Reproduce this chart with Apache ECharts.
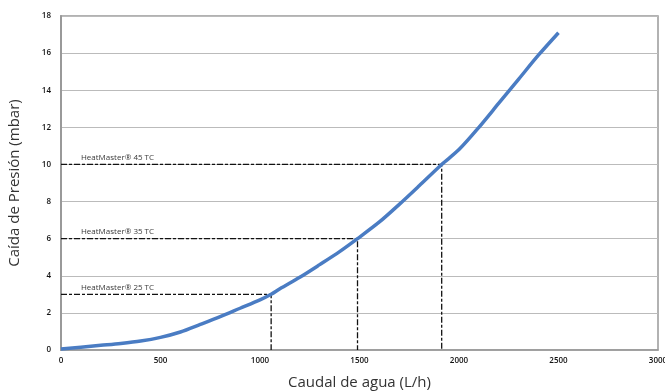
<!DOCTYPE html>
<html><head><meta charset="utf-8">
<script src="https://cdn.jsdelivr.net/npm/echarts@6/dist/echarts.min.js"></script>
<style>html,body{margin:0;padding:0;background:#fff}#c{width:665px;height:392px}</style>
</head><body><div id="c"></div>
<script>
const flowX = [0,100,200,300,400,500,600,700,800,900,1000,1056,1100,1200,1300,1400,1490,1600,1700,1800,1913,2000,2100,2200,2300,2400,2500];
const dropY = [0.05,0.15,0.25,0.35,0.48,0.68,0.97,1.38,1.8,2.25,2.7,3.0,3.3,3.92,4.6,5.3,6.0,6.9,7.85,8.85,10.0,10.8,12.0,13.3,14.6,15.9,17.1];
const modelNames = ['HeatMaster® 25 TC','HeatMaster® 35 TC','HeatMaster® 45 TC'];
const modelFlow = [1056,1490,1913];
const modelDrop = [3,6,10];
const xTicks = [0,500,1000,1500,2000,2500,3000];
const yTicks = [0,2,4,6,8,10,12,14,16,18];

const series = [{
  type:'line', smooth:0.3, showSymbol:false, silent:true,
  data: flowX.map((x,i)=>[x,dropY[i]]),
  lineStyle:{color:'#4a7cc3', width:3.5}, z:3
}];
modelNames.forEach((n,i)=>{
  series.push({
    type:'line', showSymbol:false, silent:true, z:2,
    data:[[0,modelDrop[i]],[modelFlow[i],modelDrop[i]],[modelFlow[i],0]],
    lineStyle:{color:'#111', width:1.3, type:[6,2,3,2]}
  });
  series.push({
    type:'scatter', symbolSize:0, silent:true,
    data:[[100,modelDrop[i]]],
    label:{show:true, formatter:n, position:'top', align:'left', offset:[0,2],
      color:'#000', fontSize:8, fontFamily:'Open Sans, sans-serif'}
  });
});

const chart = echarts.init(document.getElementById('c'));
chart.setOption({
  animation:false,
  grid:{left:61, right:7, top:16, bottom:42, outerBoundsMode:'none', containLabel:false,
    show:true, borderColor:'#999', borderWidth:1.5},
  xAxis:{type:'value', min:0, max:3000, interval:500,
    name:'Caudal de agua (L/h)', nameLocation:'middle', nameGap:25,
    nameTextStyle:{fontSize:15, color:'#333', fontFamily:'Open Sans, sans-serif'},
    axisLine:{show:true, lineStyle:{color:'#999', width:1.5}}, axisTick:{show:false},
    axisLabel:{fontSize:8, color:'#111', margin:7, fontWeight:600, fontFamily:'Open Sans, sans-serif',
      formatter:v=>xTicks.includes(v)?String(v):''},
    splitLine:{show:false}},
  yAxis:{type:'value', min:0, max:18, interval:2,
    name:'Caída de Presión (mbar)', nameLocation:'middle', nameGap:39,
    nameTextStyle:{fontSize:15, color:'#333', fontFamily:'Open Sans, sans-serif'},
    axisLine:{show:true, lineStyle:{color:'#999', width:2}}, axisTick:{show:false},
    axisLabel:{fontSize:8, color:'#111', margin:10, fontWeight:600, fontFamily:'Open Sans, sans-serif',
      formatter:v=>yTicks.includes(v)?String(v):''},
    splitLine:{show:true, lineStyle:{color:'#bbb', width:1.2}}},
  series
});
</script></body></html>
